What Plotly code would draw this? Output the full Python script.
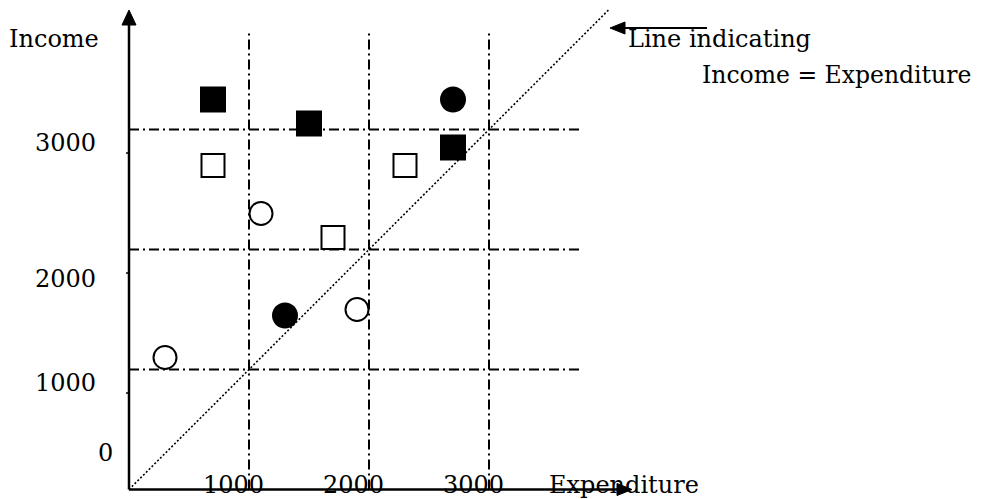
import plotly.graph_objects as go

# ---- data ----
grid_ticks = [1000, 2000, 3000]
x_tick_labels = ["1000", "2000", "3000"]
y_tick_labels = ["3000", "2000", "1000", "0"]

filled_sq_x = [700, 1500, 2700]
filled_sq_y = [3250, 3050, 2850]
open_sq_x = [700, 1700, 2300]
open_sq_y = [2700, 2100, 2700]
filled_ci_x = [2700, 1300]
filled_ci_y = [3250, 1450]
open_ci_x = [1100, 1900, 300]
open_ci_y = [2300, 1500, 1100]
diag = [0, 4000]

# ---- page-pixel -> data helpers for the layout ----
PAGE_W, PAGE_H = 983, 499
OFF = 8                      # default body margin of the html page
W, H = PAGE_W - OFF, PAGE_H - OFF
X0, Y0, PPU = 129.0, 489.5, 0.12  # origin (page pixels), pixels per unit


def px_x(p):
    return (p - X0) / PPU


def px_y(p):
    return (Y0 - p) / PPU


FONT = dict(family="DejaVu Serif", size=24, color="black")

fig = go.Figure()

# diagonal Income = Expenditure
fig.add_trace(go.Scatter(x=diag, y=diag, mode="lines",
                         line=dict(color="black", width=1.6, dash="2px,2px"),
                         hoverinfo="skip", showlegend=False))

fig.add_trace(go.Scatter(x=filled_sq_x, y=filled_sq_y, mode="markers",
                         marker=dict(symbol="square", size=26, color="black",
                                     line=dict(width=0)), showlegend=False))
fig.add_trace(go.Scatter(x=open_sq_x, y=open_sq_y, mode="markers",
                         marker=dict(symbol="square-open", size=23, color="black",
                                     line=dict(width=2)), showlegend=False))
fig.add_trace(go.Scatter(x=filled_ci_x, y=filled_ci_y, mode="markers",
                         marker=dict(symbol="circle", size=26, color="black",
                                     line=dict(width=0)), showlegend=False))
fig.add_trace(go.Scatter(x=open_ci_x, y=open_ci_y, mode="markers",
                         marker=dict(symbol="circle-open", size=23, color="black",
                                     line=dict(width=2)), showlegend=False))

shapes = []
grid_dash = "10px,4px,2px,4px"
x_top = px_y(33)
x_right = px_x(581)
for t in grid_ticks:
    shapes.append(dict(type="line", x0=t, x1=t, y0=0, y1=x_top,
                       line=dict(color="black", width=2, dash=grid_dash), layer="below"))
    shapes.append(dict(type="line", x0=0, x1=x_right, y0=t, y1=t,
                       line=dict(color="black", width=2, dash=grid_dash), layer="below"))

# axes
shapes.append(dict(type="line", x0=0, x1=0, y0=0, y1=px_y(24),
                   line=dict(color="black", width=2.5)))
shapes.append(dict(type="line", x0=0, x1=px_x(618), y0=0, y1=0,
                   line=dict(color="black", width=2.5)))
# small ticks on y axis
for p in [153, 273, 393]:
    shapes.append(dict(type="line", x0=px_x(126), x1=0, y0=px_y(p), y1=px_y(p),
                       line=dict(color="black", width=1.5)))


def tri(tip, b1, b2):
    return dict(type="path",
                path=f"M {tip[0]},{tip[1]} L {b1[0]},{b1[1]} L {b2[0]},{b2[1]} Z",
                fillcolor="black", line=dict(color="black", width=1))


# arrowheads
shapes.append(tri((0, px_y(10)), (px_x(122), px_y(25)), (px_x(136), px_y(25))))
shapes.append(tri((px_x(632), px_y(Y0)), (px_x(617), px_y(Y0 - 6)), (px_x(617), px_y(Y0 + 6))))
# pointer arrow to the diagonal
shapes.append(dict(type="line", x0=px_x(622), x1=px_x(707), y0=px_y(28), y1=px_y(28),
                   line=dict(color="black", width=2)))
shapes.append(tri((px_x(610), px_y(28)), (px_x(625), px_y(22)), (px_x(625), px_y(34))))

annotations = []


def txt(text, x, y, xanchor="center", size=24):
    annotations.append(dict(text=text, x=x, y=y, xref="x", yref="y", showarrow=False,
                            xanchor=xanchor, yanchor="middle",
                            font=dict(FONT, size=size)))


txt("Income", px_x(54), px_y(39))
for lab, py in zip(y_tick_labels[:3], [143, 279, 383]):
    txt(lab, px_x(65), px_y(py))
txt(y_tick_labels[3], px_x(105), px_y(453))
shift = px_x(X0 - 16)
for lab, t in zip(x_tick_labels, grid_ticks):
    txt(lab, t + shift, px_y(485))
txt("Expenditure", px_x(547), px_y(485), xanchor="left")
txt("Line indicating", px_x(626), px_y(39), xanchor="left")
txt("Income = Expenditure", px_x(973), px_y(75), xanchor="right", size=23.5)

fig.update_layout(
    width=W, height=H,
    margin=dict(l=0, r=0, t=0, b=0),
    paper_bgcolor="white", plot_bgcolor="white",
    xaxis=dict(range=[px_x(OFF), px_x(OFF + W)], visible=False, fixedrange=True),
    yaxis=dict(range=[px_y(OFF + H), px_y(OFF)], visible=False, fixedrange=True),
    shapes=shapes, annotations=annotations,
)

fig.write_html("out.html")
